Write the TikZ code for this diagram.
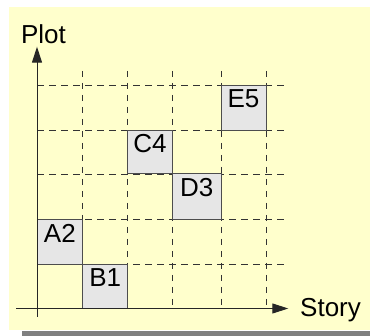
\documentclass[tikz,border=0pt]{standalone}
\usepackage{fontspec}
\setmainfont{Liberation Sans}
\usetikzlibrary{arrows.meta,fit}
\definecolor{bgyellow}{HTML}{FFFFCC}
\definecolor{shadowgray}{HTML}{808080}
\definecolor{cellfill}{HTML}{E6E6E6}
\definecolor{celledge}{HTML}{4D4D4D}
\definecolor{gridcol}{HTML}{333333}
\tikzset{
  cell/.style={draw=celledge, fill=cellfill, line width=1pt, inner sep=0pt,
    font=\fontsize{26}{30}\selectfont, text=black},
  gridline/.style={draw=gridcol, line width=0.9pt, dash pattern=on 6.5pt off 5.5pt},
  axis/.style={draw=black!85, line width=1pt, -{Triangle[length=16pt,width=10pt]}},
  axislabel/.style={inner sep=0pt, font=\fontsize{26}{30}\selectfont, anchor=base west}
}
\begin{document}
\begin{tikzpicture}[x=1pt,y=-1pt]
\useasboundingbox (0,0) rectangle (370,336);
% background and shadow
\fill[bgyellow] (9,7) rectangle (370,330);
\fill[shadowgray] (22,331) rectangle (370,336);
% grid
\foreach \gx in {82.7,127.7,172.3,221,266}
  \draw[gridline] (\gx,71) -- (\gx,308.5);
\foreach \gy in {85.5,130.3,174,219.7,264.7}
  \draw[gridline] (37,\gy) -- (288,\gy);
% cells
\node[cell, fit={(37,219.7) (82.7,264.7)}] (a2) {A2};
\node[cell, fit={(82.7,264.7) (127.7,308.5)}] (b1) {B1};
\node[cell, fit={(127.7,130.3) (172.3,174)}] (c4) {C4};
\node[cell, fit={(172.3,174) (221,219.7)}] (d3) {D3};
\node[cell, fit={(221,85.5) (266,130.3)}] (e5) {E5};
% axes
\coordinate (yb) at (37,317);
\coordinate (yt) at (37,46.7);
\coordinate (xl) at (16,308.5);
\coordinate (xr) at (288.3,308.5);
\draw[axis] (yb) -- (yt);
\draw[axis] (xl) -- (xr);
\node[axislabel] (plot) at (20.8,43.3) {Plot};
\node[axislabel] (story) at (300,317) {Story};
\end{tikzpicture}
\end{document}
